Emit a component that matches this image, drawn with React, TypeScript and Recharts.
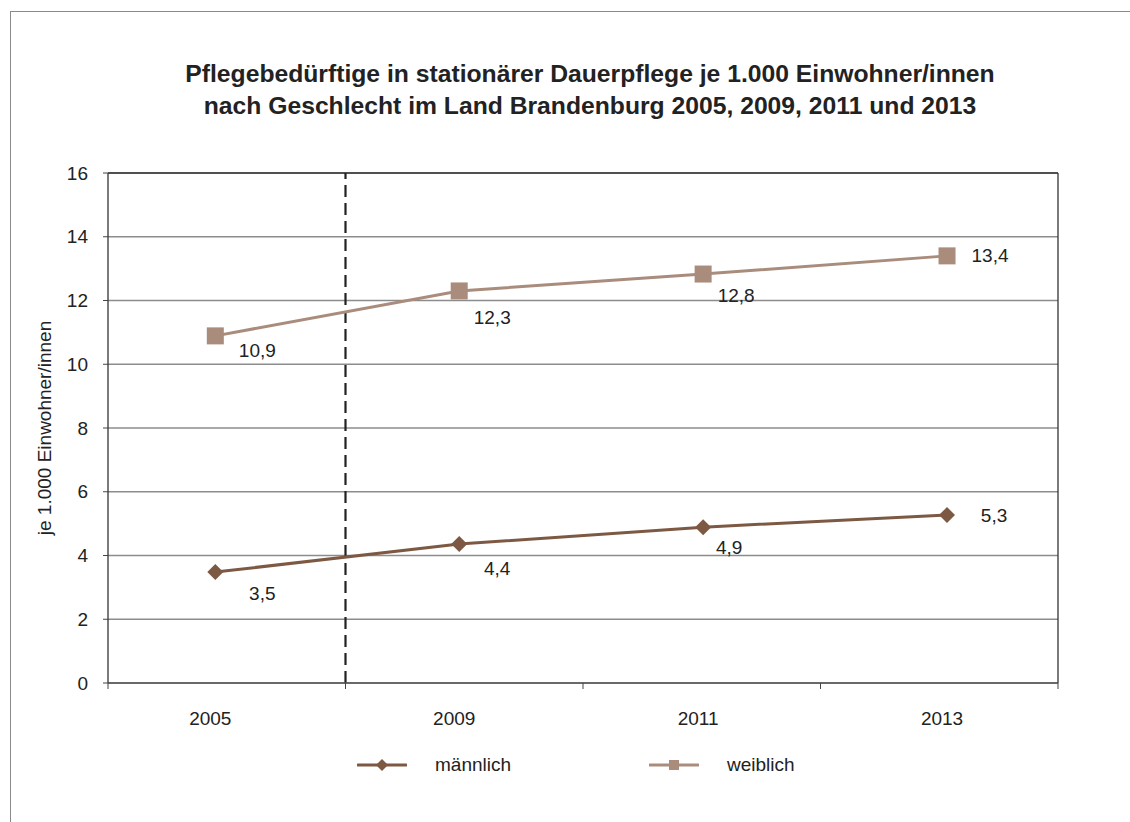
import React from 'react';
import {
  CartesianGrid,
  LabelList,
  Legend,
  Line,
  LineChart,
  ReferenceLine,
  XAxis,
  YAxis,
} from 'recharts';

const years = ['2005', '2009', '2011', '2013'];
const maennlich = [3.48, 4.36, 4.89, 5.27];
const weiblich = [10.89, 12.3, 12.83, 13.4];
const yTicks = [0, 2, 4, 6, 8, 10, 12, 14, 16];
const boundaryTicks = [0, 1, 2, 3, 4];
const centreTicks = [0.5, 1.5, 2.5, 3.5];

// label placement relative to each marker, as in the original
const offsM = [[47, 21], [38, 24], [26, 20], [47, 0]];
const offsW = [[42, 15], [33, 27], [33, 21], [43, 0]];

const C_M = '#7d5943';
const C_W = '#a98c7c';
const FONT = '"Liberation Sans", Arial, sans-serif';
const FS = 19;

const data = years.map((year, i) => ({
  pos: i + 0.5,
  year,
  m: maennlich[i],
  w: weiblich[i],
}));

const fmt = (v: number) => v.toFixed(1).replace('.', ',');

function Diamond({ cx, cy, fill }: any) {
  if (cx == null || cy == null) return null;
  const r = 8;
  return <path d={`M${cx},${cy - r}L${cx + r},${cy}L${cx},${cy + r}L${cx - r},${cy}Z`} fill={fill} />;
}

function Square({ cx, cy, fill }: any) {
  if (cx == null || cy == null) return null;
  const s = 8.5;
  return <rect x={cx - s} y={cy - s} width={s * 2} height={s * 2} fill={fill} />;
}

const makeLabel = (offs: number[][]) => (props: any) => {
  const { x, y, value, index } = props;
  const [dx, dy] = offs[index] ?? [40, 20];
  return (
    <text
      x={x + dx}
      y={y + dy}
      textAnchor="middle"
      dominantBaseline="central"
      fontSize={FS}
      fontFamily={FONT}
      fill="#222"
    >
      {fmt(value)}
    </text>
  );
};

function YearTick({ x, y, payload }: any) {
  const v = payload.value as number;
  return (
    <text x={x - 5} y={y + 34} textAnchor="middle" dominantBaseline="central" fontSize={FS} fontFamily={FONT} fill="#222">
      {years[Math.floor(v)]}
    </text>
  );
}

function EmptyTick() {
  return <g />;
}

function LegendContent() {
  const item = (left: number, color: string, label: string, square: boolean) => (
    <div style={{ position: 'absolute', left, top: 0, height: 24, display: 'flex', alignItems: 'center' }}>
      <svg width={50} height={24}>
        <line x1={1} x2={49} y1={12} y2={12} stroke={color} strokeWidth={3} strokeLinecap="round" />
        {square ? (
          <rect x={20} y={7} width={10} height={10} fill={color} />
        ) : (
          <path d="M25,6L31,12L25,18L19,12Z" fill={color} />
        )}
      </svg>
      <span style={{ marginLeft: 28, fontSize: FS, fontFamily: FONT, color: '#222' }}>{label}</span>
    </div>
  );
  return (
    <div style={{ position: 'relative', width: 1130, height: 24 }}>
      {item(357, C_M, 'männlich', false)}
      {item(649, C_W, 'weiblich', true)}
    </div>
  );
}

export default function App() {
  return (
    <div
      style={{
        position: 'fixed',
        left: 0,
        top: 0,
        width: 1130,
        height: 822,
        overflow: 'hidden',
        background: '#fff',
        fontFamily: FONT,
      }}
    >
      <div
        style={{
          position: 'absolute',
          left: 10,
          top: 11,
          width: 1200,
          height: 900,
          border: '1.5px solid #8a8a8a',
        }}
      />
      <div
        style={{
          position: 'absolute',
          left: 90,
          top: 58,
          width: 1000,
          textAlign: 'center',
          fontSize: 24.7,
          fontWeight: 'bold',
          lineHeight: '32px',
          color: '#222',
        }}
      >
        Pflegebedürftige in stationärer Dauerpflege je 1.000 Einwohner/innen
        <br />
        nach Geschlecht im Land Brandenburg 2005, 2009, 2011 und 2013
      </div>
      <div style={{ position: 'absolute', left: 0, top: 0 }}>
        <LineChart width={1130} height={822} data={data} margin={{ top: 173, right: 72, left: 48, bottom: 84 }}>
          <CartesianGrid vertical={false} stroke="#8c8c8c" strokeWidth={1.3} />
          <XAxis
            dataKey="pos"
            type="number"
            domain={[0, 4]}
            allowDataOverflow
            ticks={boundaryTicks}
            interval={0}
            height={1}
            tickSize={6}
            tick={<EmptyTick />}
            tickLine={{ stroke: '#444' }}
            axisLine={{ stroke: '#555', strokeWidth: 1.3 }}
          />
          <XAxis
            xAxisId="p"
            dataKey="pos"
            type="number"
            domain={[0.06, 3.955]}
            allowDataOverflow
            ticks={centreTicks}
            interval={0}
            height={30}
            tickSize={0}
            tickMargin={0}
            tickLine={false}
            axisLine={false}
            tick={<YearTick />}
          />
          <YAxis
            domain={[0, 16]}
            ticks={yTicks}
            width={60}
            tickSize={5}
            tickMargin={15}
            tick={{ fontSize: FS, fill: '#222', fontFamily: FONT }}
            tickLine={{ stroke: '#444' }}
            axisLine={{ stroke: '#333', strokeWidth: 1.3 }}
            label={{
              content: ({ viewBox }: any) => {
                const cx = 44;
                const cy = viewBox.y + viewBox.height / 2;
                return (
                  <text
                    x={cx}
                    y={cy}
                    transform={`rotate(-90 ${cx} ${cy})`}
                    textAnchor="middle"
                    dominantBaseline="central"
                    fontSize={FS}
                    fontFamily={FONT}
                    fill="#222"
                  >
                    je 1.000 Einwohner/innen
                  </text>
                );
              },
            }}
          />
          <ReferenceLine y={16} stroke="#333" strokeWidth={1.3} />
          <ReferenceLine x={4} stroke="#333" strokeWidth={1.3} />
          <ReferenceLine x={1} stroke="#222" strokeWidth={2.2} strokeDasharray="12 6" />
          <Legend
            verticalAlign="bottom"
            content={<LegendContent />}
            wrapperStyle={{ left: 0, width: 1130, bottom: 45, height: 24 }}
          />
          <Line
            xAxisId="p"
            dataKey="m"
            name="männlich"
            stroke={C_M}
            strokeWidth={3}
            dot={<Diamond fill={C_M} />}
            activeDot={false}
            isAnimationActive={false}
          >
            <LabelList dataKey="m" content={makeLabel(offsM)} />
          </Line>
          <Line
            xAxisId="p"
            dataKey="w"
            name="weiblich"
            stroke={C_W}
            strokeWidth={3}
            dot={<Square fill={C_W} />}
            activeDot={false}
            isAnimationActive={false}
          >
            <LabelList dataKey="w" content={makeLabel(offsW)} />
          </Line>
        </LineChart>
      </div>
    </div>
  );
}
